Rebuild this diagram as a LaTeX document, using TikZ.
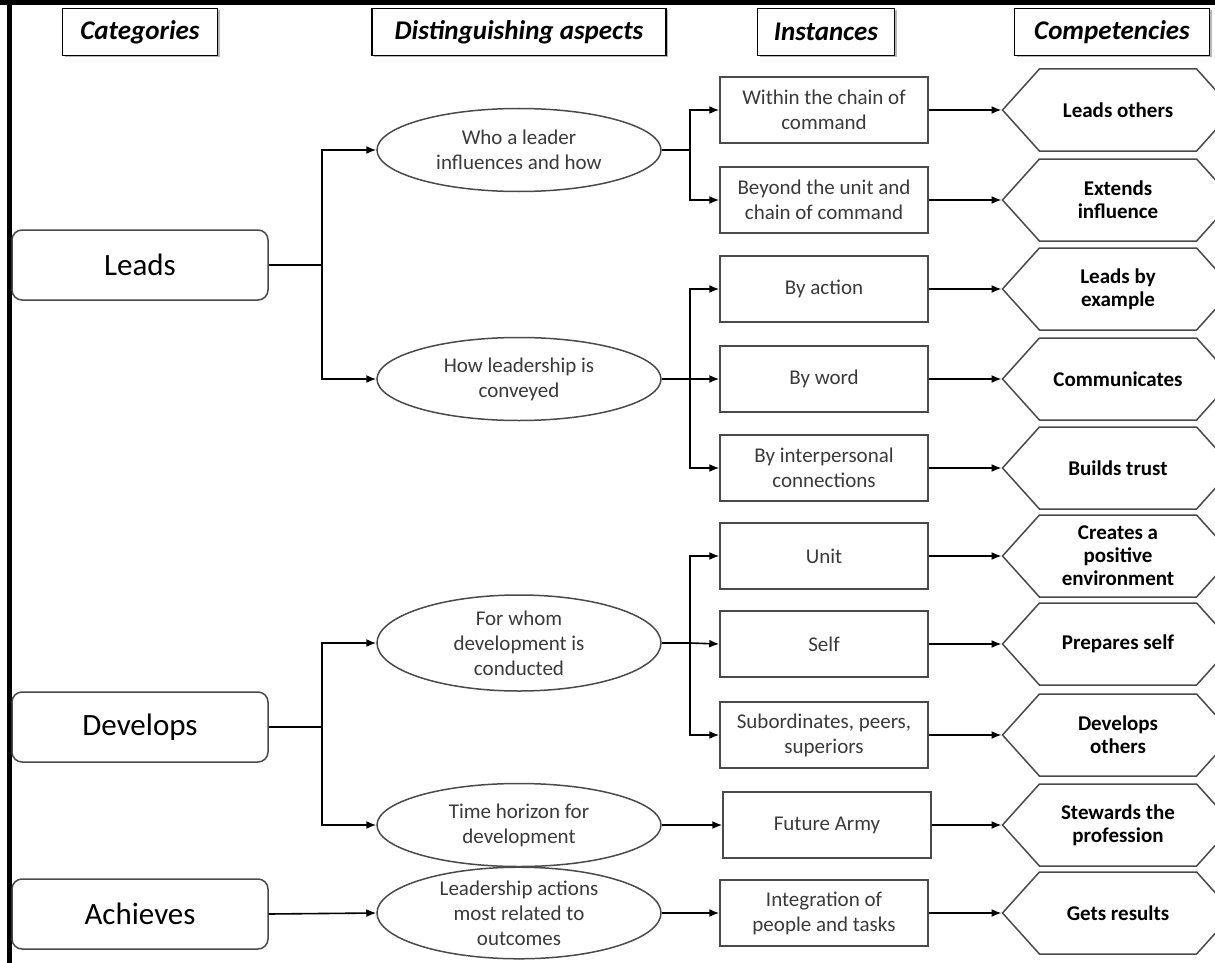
\documentclass[tikz,border=0pt]{standalone}
\usepackage{fontspec}
\setmainfont{Carlito}
\usetikzlibrary{positioning, shapes.geometric, shapes.symbols, arrows.meta, shadows}

\definecolor{textgray}{HTML}{3A3A3A}
\definecolor{linegray}{HTML}{4A4A4A}

\tikzset{
  header/.style={draw=black, line width=1.2pt, fill=white, minimum height=47, inner sep=0,
    font=\fontsize{27}{30}\selectfont\bfseries\itshape,
    drop shadow={shadow xshift=2pt, shadow yshift=-2pt, fill=gray!70, opacity=0.8}},
  category/.style={draw=linegray, line width=1.5pt, rounded corners=10pt, fill=white,
    minimum width=256, minimum height=70, inner sep=0, font=\fontsize{31}{34}\selectfont},
  aspect/.style={ellipse, draw=linegray, line width=1.5pt, minimum width=284, minimum height=83,
    inner sep=0, align=center, text=textgray, font=\fontsize{21}{25}\selectfont},
  instance/.style={rectangle, draw=linegray, line width=1.5pt, minimum width=208, minimum height=66,
    inner sep=0, align=center, text=textgray, font=\fontsize{21}{25}\selectfont},
  competency/.style={signal, signal to=west and east, signal pointer angle=96, draw=linegray,
    line width=1.5pt, minimum width=231, minimum height=82, inner sep=0, align=center,
    font=\fontsize{21}{23}\selectfont\bfseries},
}

\begin{document}
\begin{tikzpicture}[x=1pt, y=-1pt, >={Latex[length=10pt, width=8pt]}, line width=1.6pt]
            \useasboundingbox (0, 0) rectangle (1215, 963);
            \fill[white] (0, 0) rectangle (1215, 963);

            % frame
            \draw[line width=5pt] (0, 2.5) -- (1215, 2.5);
            \draw[line width=5pt] (9.5, 0) -- (9.5, 963);

            % column headers
            \node[header, minimum width=155] (hcat) at (140, 32) {Categories};
            \node[header, minimum width=294] (hasp) at (519, 32) {Distinguishing aspects};
            \node[header, minimum width=137] (hinst) at (826, 32) {Instances};
            \node[header, minimum width=195] (hcomp) at (1112, 32) {Competencies};

            % categories
            \node[category] (leads) at (140, 265) {Leads};
            \node[category] (develops) at (140, 727) {Develops};
            \node[category] (achieves) at (140, 914) {Achieves};

            % distinguishing aspects
            \node[aspect] (who) at (519, 150) {Who a leader\\influences and how};
            \node[aspect] (how) at (519, 379) {How leadership is\\conveyed};
            \node[aspect, minimum height=96] (forwhom) at (519, 643) {For whom\\development is\\conducted};
            \node[aspect] (horizon) at (519, 825) {Time horizon for\\development};
            \node[aspect] (actions) at (519, 913) {Leadership actions\\most related to\\outcomes};

            % instances
            \node[instance] (chain) at (824, 110) {Within the chain of\\command};
            \node[instance] (beyond) at (824, 200) {Beyond the unit and\\chain of command};
            \node[instance] (action) at (824, 289) {By action};
            \node[instance] (word) at (824, 379) {By word};
            \node[instance] (interpersonal) at (824, 468) {By interpersonal\\connections};
            \node[instance] (unit) at (824, 556) {Unit};
            \node[instance] (self) at (824, 644) {Self};
            \node[instance] (subordinates) at (824, 735) {Subordinates, peers,\\superiors};
            \node[instance] (future) at (827, 825) {Future Army};
            \node[instance] (integration) at (824, 913) {Integration of\\people and tasks};

            % competencies
            \node[competency] (leadsothers) at (1118, 110) {Leads others};
            \node[competency] (extends) at (1118, 200) {Extends\\influence};
            \node[competency] (example) at (1118, 289) {Leads by\\example};
            \node[competency] (communicates) at (1118, 379) {Communicates};
            \node[competency] (trust) at (1118, 468) {Builds trust};
            \node[competency] (environment) at (1118, 556) {Creates a\\positive\\environment};
            \node[competency] (prepares) at (1118, 644) {Prepares self};
            \node[competency] (developsothers) at (1118, 735) {Develops\\others};
            \node[competency] (stewards) at (1118, 825) {Stewards the\\profession};
            \node[competency] (results) at (1118, 913) {Gets results};

            % branch points
            \coordinate (jleads) at (322, 265);
            \coordinate (jdevelops) at (322, 727);
            \coordinate (jwho) at (690, 150);
            \coordinate (jhow) at (690, 379);
            \coordinate (jforwhom) at (690, 643);

            \draw (leads.east) -- (jleads);
            \draw [->] (jleads) |- (who.west);
            \draw [->] (jleads) |- (how.west);
            \draw (develops.east) -- (jdevelops);
            \draw [->] (jdevelops) |- (forwhom.west);
            \draw [->] (jdevelops) |- (horizon.west);
            \draw [->] (achieves.east) -- (actions.west);

            \draw (who.east) -- (jwho);
            \draw [->] (jwho) |- (chain.west);
            \draw [->] (jwho) |- (beyond.west);
            \draw (how.east) -- (jhow);
            \draw [->] (jhow) |- (action.west);
            \draw [->] (jhow) -- (word.west);
            \draw [->] (jhow) |- (interpersonal.west);
            \draw (forwhom.east) -- (jforwhom);
            \draw [->] (jforwhom) |- (unit.west);
            \draw [->] (jforwhom) -- (self.west);
            \draw [->] (jforwhom) |- (subordinates.west);
            \draw [->] (horizon.east) -- (future.west);
            \draw [->] (actions.east) -- (integration.west);

            \draw [->] (chain.east) -- (leadsothers.west);
            \draw [->] (beyond.east) -- (extends.west);
            \draw [->] (action.east) -- (example.west);
            \draw [->] (word.east) -- (communicates.west);
            \draw [->] (interpersonal.east) -- (trust.west);
            \draw [->] (unit.east) -- (environment.west);
            \draw [->] (self.east) -- (prepares.west);
            \draw [->] (subordinates.east) -- (developsothers.west);
            \draw [->] (future.east) -- (stewards.west);
            \draw [->] (integration.east) -- (results.west);
        \end{tikzpicture}
\end{document}
